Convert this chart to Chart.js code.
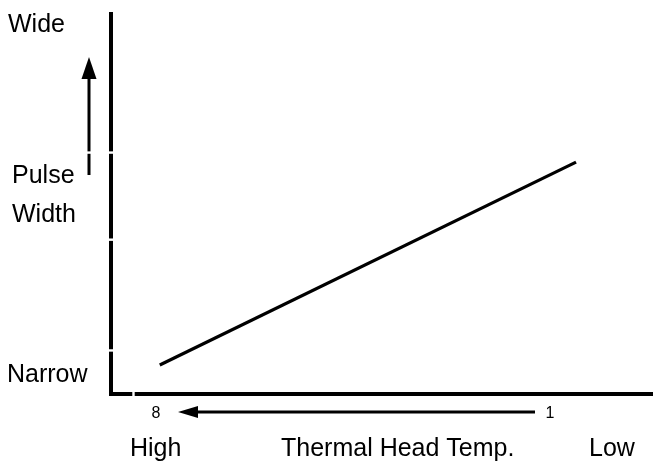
<!DOCTYPE html>
<html>
<head>
<meta charset="utf-8">
<script src="https://cdn.jsdelivr.net/npm/chart.js@4/dist/chart.umd.min.js"></script>
<style>
  html, body { margin: 0; padding: 0; background: #fff; }
  #wrap { width: 653px; height: 464px; }
</style>
</head>
<body>
<div id="wrap"><canvas id="pulse"></canvas></div>
<script>
// Pulse width vs. thermal head temperature (normalised 0-100 on both axes)
var headTemp = [9.0, 85.8];      // x: left = high temp, right = low temp
var pulseWidth = [7.6, 60.7];    // y: bottom = narrow, top = wide
var yAxisBreaks = [63.2, 40.4, 11.4];
var xAxisBreaks = [4.15];
var yLabels = ['Wide', 'Pulse', 'Width', 'Narrow'];
var xLabels = ['High', 'Thermal Head Temp.', 'Low'];
var settingEnds = ['8', '1'];

var FONT = "'Liberation Sans', Arial, sans-serif";

function arrowHead(ctx, tipX, tipY, dir, len, half) {
  // dir: 'up' or 'left'
  ctx.beginPath();
  if (dir === 'up') {
    ctx.moveTo(tipX, tipY);
    ctx.lineTo(tipX - half, tipY + len);
    ctx.lineTo(tipX + half, tipY + len);
  } else {
    ctx.moveTo(tipX, tipY);
    ctx.lineTo(tipX + len, tipY - half);
    ctx.lineTo(tipX + len, tipY + half);
  }
  ctx.closePath();
  ctx.fill();
}

var diagramParts = {
  id: 'diagramParts',
  beforeDatasetsDraw: function (chart) {
    var ctx = chart.ctx;
    var xs = chart.scales.x, ys = chart.scales.y;
    var x0 = xs.getPixelForValue(0), y0 = ys.getPixelForValue(0);
    var xTop = ys.getPixelForValue(100), xRight = xs.getPixelForValue(100);
    ctx.save();
    ctx.fillStyle = '#000';
    // axes
    ctx.fillRect(x0 - 2, xTop, 4, y0 - xTop + 2);
    ctx.fillRect(x0 - 2, y0 - 2, xRight - x0 + 2, 4);

    // up arrow beside the y labels
    ctx.fillRect(87.5, 78, 3, 97);
    arrowHead(ctx, 89, 57, 'up', 22, 7.5);

    // breaks in the axis lines
    ctx.fillStyle = '#fff';
    yAxisBreaks.forEach(function (v, i) {
      var p = ys.getPixelForValue(v);
      var from = i === 0 ? 80 : x0 - 4;
      ctx.fillRect(from, p - 1.2, x0 + 4 - from, 2.4);
    });
    xAxisBreaks.forEach(function (v) {
      var p = xs.getPixelForValue(v);
      ctx.fillRect(p - 1.2, y0 - 4, 2.4, 8);
    });

    // setting arrow under the x axis (1 -> 8)
    ctx.fillStyle = '#000';
    ctx.fillRect(196, 410.5, 339, 3);
    arrowHead(ctx, 178, 412, 'left', 20, 6);

    ctx.font = '16px ' + FONT;
    ctx.textBaseline = 'alphabetic';
    ctx.textAlign = 'center';
    ctx.fillText(settingEnds[0], 156, 418);
    ctx.fillText(settingEnds[1], 550, 418);

    // axis captions
    ctx.font = '25px ' + FONT;
    ctx.textAlign = 'left';
    var yPos = [[8, 32], [12, 183], [12, 222], [7, 382]];
    yLabels.forEach(function (t, i) { ctx.fillText(t, yPos[i][0], yPos[i][1]); });
    var xPos = [130, 281, 589];
    xLabels.forEach(function (t, i) { ctx.fillText(t, xPos[i], 456); });
    ctx.restore();
  }
};

new Chart(document.getElementById('pulse').getContext('2d'), {
  type: 'line',
  data: {
    labels: headTemp,
    datasets: [{
      data: headTemp.map(function (x, i) { return { x: x, y: pulseWidth[i] }; }),
      borderColor: '#000',
      borderWidth: 3.2,
      pointRadius: 0,
      fill: false,
      tension: 0
    }]
  },
  options: {
    responsive: true,
    maintainAspectRatio: false,
    animation: false,
    layout: { padding: { left: 111, top: 12, right: 0, bottom: 70 } },
    plugins: { legend: { display: false }, tooltip: { enabled: false } },
    scales: {
      x: { type: 'linear', min: 0, max: 100, display: false },
      y: { type: 'linear', min: 0, max: 100, display: false }
    }
  },
  plugins: [diagramParts]
});
</script>
</body>
</html>
